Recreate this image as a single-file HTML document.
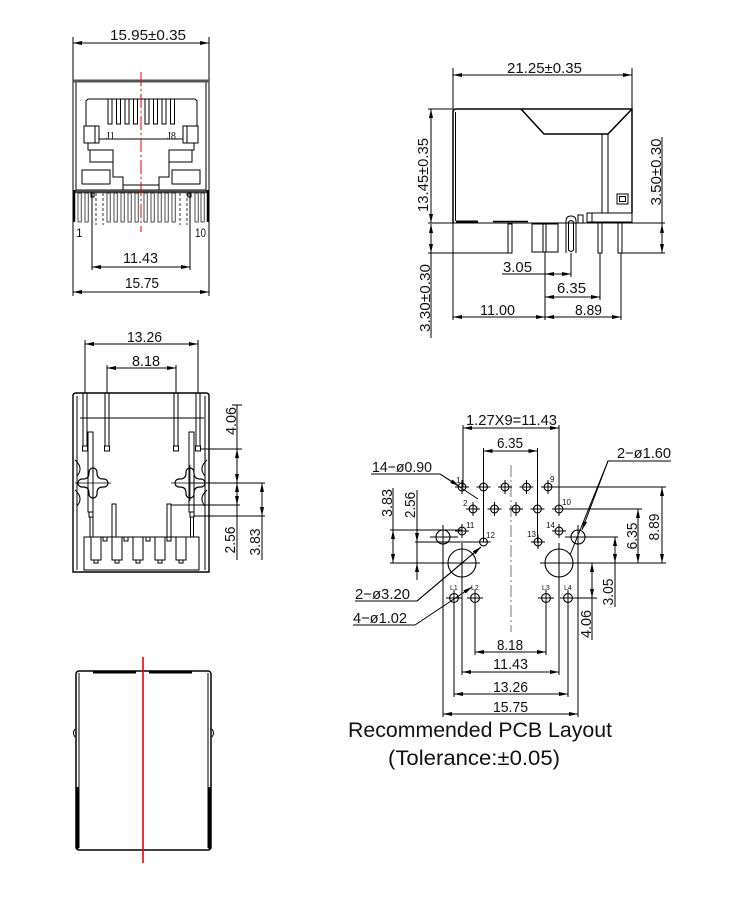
<!DOCTYPE html>
<html><head><meta charset="utf-8"><style>
html,body{margin:0;padding:0;background:#fff;}
svg{display:block;}
text{font-family:"Liberation Sans",sans-serif;fill:#111;stroke:none;}
</style></head><body>
<svg width="750" height="900" viewBox="0 0 750 900" xmlns="http://www.w3.org/2000/svg">
<defs>
<marker id="a" viewBox="0 0 9 4" refX="9" refY="2" markerWidth="9" markerHeight="4" markerUnits="userSpaceOnUse" orient="auto-start-reverse"><path d="M0,0L9,2L0,4z" fill="#000"/></marker>
</defs>
<rect width="750" height="900" fill="#fff"/>

<!-- ================= VIEW 1 : front ================= -->
<g stroke="#000" stroke-width="1" fill="none">
<line x1="73" y1="37" x2="73" y2="296"/>
<line x1="209" y1="37" x2="209" y2="296"/>
<line x1="73" y1="43" x2="209" y2="43" marker-start="url(#a)" marker-end="url(#a)"/>
<line x1="76" y1="81" x2="76" y2="192"/>
<line x1="206" y1="81" x2="206" y2="192"/>
<line x1="73" y1="81" x2="209" y2="81" stroke="#555" stroke-width="3"/>
<path d="M86,126V101L88,99H195L197,101V126"/>
<rect x="108" y="99" width="4" height="25"/>
<rect x="116.5" y="99" width="4" height="25"/>
<rect x="125" y="99" width="4" height="25"/>
<rect x="133.5" y="99" width="4" height="25"/>
<rect x="145" y="99" width="4" height="25"/>
<rect x="153.5" y="99" width="4" height="25"/>
<rect x="162" y="99" width="4" height="25"/>
<rect x="170.5" y="99" width="4" height="25"/>
<rect x="84" y="126" width="15" height="17"/>
<line x1="95" y1="126" x2="95" y2="143"/>
<rect x="183" y="126" width="15" height="17"/>
<line x1="187" y1="126" x2="187" y2="143"/>
<line x1="99" y1="139" x2="183" y2="139"/>
<path d="M88,143V150H113V177H123V190"/>
<rect x="90" y="150" width="23" height="12"/>
<rect x="82" y="170" width="28" height="14"/>
<path d="M194,143V150H169V177H159V190"/>
<rect x="169" y="150" width="23" height="12"/>
<rect x="172" y="170" width="28" height="14"/>
<line x1="123" y1="185" x2="159" y2="185"/>
<line x1="76" y1="190" x2="206" y2="190"/>
<line x1="73" y1="192" x2="209" y2="192" stroke="#444" stroke-width="2.5"/>
<line x1="74" y1="190" x2="74" y2="222" stroke-width="2.5"/>
<line x1="208" y1="190" x2="208" y2="222" stroke-width="2.5"/>
<g stroke-width="0.7">
<rect x="78" y="193" width="3.2" height="29"/>
<rect x="85" y="193" width="3.2" height="29"/>
<rect x="107" y="193" width="3.2" height="29"/>
<rect x="114" y="193" width="3.2" height="29"/>
<rect x="121" y="193" width="3.2" height="29"/>
<rect x="128" y="193" width="3.2" height="29"/>
<rect x="135" y="193" width="3.2" height="29"/>
<rect x="144" y="193" width="3.2" height="29"/>
<rect x="151" y="193" width="3.2" height="29"/>
<rect x="158" y="193" width="3.2" height="29"/>
<rect x="165" y="193" width="3.2" height="29"/>
<rect x="172" y="193" width="3.2" height="29"/>
<rect x="195" y="193" width="3.2" height="29"/>
<rect x="201" y="193" width="3.2" height="29"/>
</g>
<g stroke-dasharray="3,2" stroke-width="0.8">
<line x1="96" y1="193" x2="96" y2="225"/>
<line x1="103" y1="193" x2="103" y2="225"/>
<line x1="180" y1="193" x2="180" y2="225"/>
<line x1="187" y1="193" x2="187" y2="225"/>
</g>
<rect x="91" y="193" width="3" height="4"/>
<rect x="188" y="193" width="3" height="4"/>
<line x1="92" y1="193" x2="92" y2="270"/>
<line x1="190" y1="193" x2="190" y2="270"/>
<line x1="92" y1="267" x2="190" y2="267" marker-start="url(#a)" marker-end="url(#a)"/>
<line x1="73" y1="292" x2="209" y2="292" marker-start="url(#a)" marker-end="url(#a)"/>
<line x1="141" y1="72" x2="141" y2="232" stroke="#e00" stroke-width="1" stroke-dasharray="14,3,2,3"/>
</g>
<text x="110" y="40" font-size="15" textLength="76" lengthAdjust="spacingAndGlyphs">15.95±0.35</text>
<text x="123" y="263" font-size="15" textLength="35" lengthAdjust="spacingAndGlyphs">11.43</text>
<text x="125" y="288" font-size="15" textLength="34" lengthAdjust="spacingAndGlyphs">15.75</text>
<text x="76" y="237" font-size="12">1</text>
<text x="195" y="237" font-size="12" textLength="11" lengthAdjust="spacingAndGlyphs">10</text>
<text x="106" y="139" font-size="10" style="font-family:'Liberation Serif',serif">J1</text>
<text x="167" y="139" font-size="10" style="font-family:'Liberation Serif',serif">J8</text>

<!-- ================= VIEW 2 : side ================= -->
<g stroke="#000" stroke-width="1" fill="none">
<line x1="453" y1="68" x2="453" y2="109"/>
<line x1="632" y1="68" x2="632" y2="109"/>
<line x1="453" y1="75" x2="632" y2="75" marker-start="url(#a)" marker-end="url(#a)"/>
<path d="M453,223V112Q453,109 456,109H632V213" stroke-width="1.5"/>
<path d="M521,109L544,134H608L632,109" stroke-width="1.5"/>
<line x1="455.5" y1="112" x2="455.5" y2="221"/>
<line x1="602" y1="134" x2="602" y2="213"/>
<line x1="608" y1="134" x2="608" y2="213"/>
<rect x="617" y="194" width="11" height="10"/>
<rect x="619.5" y="196.5" width="6" height="5"/>
<rect x="587" y="213" width="45" height="9"/>
<line x1="592" y1="213" x2="592" y2="222"/>
<line x1="428" y1="223" x2="665" y2="223"/>
<line x1="456" y1="221.5" x2="478" y2="221.5" stroke-width="2"/>
<line x1="493" y1="221.5" x2="528" y2="221.5" stroke-width="1.5"/>
<line x1="428" y1="109" x2="453" y2="109"/>
<line x1="431" y1="109" x2="431" y2="223" marker-start="url(#a)" marker-end="url(#a)"/>
<line x1="431" y1="224" x2="431" y2="253" marker-start="url(#a)" marker-end="url(#a)"/>
<line x1="431" y1="253" x2="431" y2="338"/>
<line x1="428" y1="253" x2="510" y2="253"/>
<line x1="622" y1="253" x2="665" y2="253"/>
<line x1="662" y1="137" x2="662" y2="224"/>
<line x1="662" y1="224" x2="662" y2="253" marker-start="url(#a)" marker-end="url(#a)"/>
<rect x="508" y="224" width="4" height="29"/>
<rect x="532" y="224" width="26" height="28"/>
<line x1="543" y1="224" x2="543" y2="252"/>
<line x1="546" y1="224" x2="546" y2="252"/>
<path d="M566,253V221Q566,216 571,216Q576,216 576,221V253"/>
<path d="M568.5,250V222Q571,219 573.5,222V250Q571,253 568.5,250Z"/>
<rect x="578" y="215" width="5" height="8"/>
<rect x="598" y="223" width="4" height="30"/>
<rect x="618" y="223" width="4" height="30"/>
<line x1="453" y1="223" x2="453" y2="320"/>
<line x1="545" y1="252" x2="545" y2="320"/>
<line x1="571" y1="253" x2="571" y2="277"/>
<line x1="600" y1="253" x2="600" y2="300"/>
<line x1="621" y1="253" x2="621" y2="320"/>
<line x1="502" y1="274" x2="545" y2="274"/>
<line x1="545" y1="274" x2="571" y2="274" marker-start="url(#a)" marker-end="url(#a)"/>
<line x1="545" y1="297" x2="600" y2="297" marker-start="url(#a)" marker-end="url(#a)"/>
<line x1="453" y1="317" x2="545" y2="317" marker-start="url(#a)" marker-end="url(#a)"/>
<line x1="545" y1="317" x2="621" y2="317" marker-start="url(#a)" marker-end="url(#a)"/>
</g>
<text x="507" y="73" font-size="15" textLength="75" lengthAdjust="spacingAndGlyphs">21.25±0.35</text>
<text x="428" y="175" transform="rotate(-90 428 175)" text-anchor="middle" font-size="15" textLength="74" lengthAdjust="spacingAndGlyphs">13.45±0.35</text>
<text x="661" y="172" transform="rotate(-90 661 172)" text-anchor="middle" font-size="15" textLength="67" lengthAdjust="spacingAndGlyphs">3.50±0.30</text>
<text x="430" y="298" transform="rotate(-90 430 298)" text-anchor="middle" font-size="15" textLength="68" lengthAdjust="spacingAndGlyphs">3.30±0.30</text>
<text x="503" y="272" font-size="15" textLength="29" lengthAdjust="spacingAndGlyphs">3.05</text>
<text x="557" y="293" font-size="15" textLength="29" lengthAdjust="spacingAndGlyphs">6.35</text>
<text x="480" y="315" font-size="15" textLength="35" lengthAdjust="spacingAndGlyphs">11.00</text>
<text x="575" y="315" font-size="15" textLength="27" lengthAdjust="spacingAndGlyphs">8.89</text>

<!-- ================= VIEW 3 : bottom ================= -->
<g stroke="#000" stroke-width="1" fill="none">
<path d="M73,572V396Q73,393 76,393H206Q209,393 209,396V572Z" stroke-width="1.4"/>
<line x1="77" y1="396" x2="77" y2="570"/>
<line x1="205" y1="396" x2="205" y2="570"/>
<line x1="80" y1="418" x2="204" y2="418"/>
<line x1="85" y1="340" x2="85" y2="393"/>
<line x1="198" y1="340" x2="198" y2="393"/>
<line x1="107" y1="365" x2="107" y2="393"/>
<line x1="176" y1="365" x2="176" y2="393"/>
<line x1="85" y1="344" x2="198" y2="344" marker-start="url(#a)" marker-end="url(#a)"/>
<line x1="107" y1="368" x2="176" y2="368" marker-start="url(#a)" marker-end="url(#a)"/>
<rect x="83" y="393" width="4" height="53"/><rect x="82.5" y="446" width="5" height="5"/>
<rect x="105" y="393" width="4" height="53"/><rect x="104.5" y="446" width="5" height="5"/>
<rect x="174" y="393" width="4" height="53"/><rect x="173.5" y="446" width="5" height="5"/>
<rect x="196" y="393" width="4" height="53"/><rect x="195.5" y="446" width="5" height="5"/>
<rect x="88" y="432" width="5" height="80"/><rect x="89" y="512" width="4" height="5"/><rect x="90" y="517" width="3" height="20"/>
<rect x="189" y="432" width="5" height="80"/><rect x="190" y="512" width="4" height="5"/><rect x="190.5" y="517" width="3" height="20"/>
<rect x="112" y="504" width="4" height="33"/>
<rect x="167" y="504" width="4" height="33"/>
<path d="M75,460Q84,468 77,476M75,490Q84,498 77,506"/>
<path d="M207,460Q198,468 205,476M207,490Q198,498 205,506"/>
<path d="M89,472A4,4 0 0 1 97,472V473Q97,479 103,479H104A4,4 0 0 1 104,487H103Q97,487 97,493V494A4,4 0 0 1 89,494V493Q89,487 83,487H82A4,4 0 0 1 82,479H83Q89,479 89,473Z" stroke-width="1.2"/>
<path d="M186,472A4,4 0 0 1 194,472V473Q194,479 200,479H201A4,4 0 0 1 201,487H200Q194,487 194,493V494A4,4 0 0 1 186,494V493Q186,487 180,487H179A4,4 0 0 1 179,479H180Q186,479 186,473Z" stroke-width="1.2"/>
<line x1="75" y1="483" x2="111" y2="483" stroke-width="0.8"/>
<line x1="93" y1="465" x2="93" y2="501" stroke-width="0.8"/>
<line x1="171" y1="483" x2="209" y2="483" stroke-width="0.8"/>
<line x1="190" y1="465" x2="190" y2="501" stroke-width="0.8"/>
<rect x="84" y="537" width="115" height="33"/>
<rect x="91" y="537" width="10" height="23"/><rect x="94" y="560" width="4" height="3"/>
<rect x="112" y="537" width="10" height="23"/><rect x="115" y="560" width="4" height="3"/>
<rect x="133" y="537" width="10" height="23"/><rect x="136" y="560" width="4" height="3"/>
<rect x="155" y="537" width="10" height="23"/><rect x="158" y="560" width="4" height="3"/>
<rect x="176" y="537" width="10" height="23"/><rect x="179" y="560" width="4" height="3"/>
<rect x="103" y="537" width="4" height="4"/>
<rect x="124" y="537" width="4" height="4"/>
<rect x="146" y="537" width="4" height="4"/>
<rect x="167" y="537" width="4" height="4"/>
<line x1="232" y1="405" x2="242" y2="405"/>
<line x1="201" y1="449" x2="242" y2="449"/>
<line x1="237" y1="405" x2="237" y2="449"/>
<line x1="237" y1="449" x2="237" y2="483" marker-start="url(#a)" marker-end="url(#a)"/>
<line x1="190" y1="483" x2="265" y2="483"/>
<line x1="171" y1="505" x2="240" y2="505"/>
<line x1="237" y1="483" x2="237" y2="505" marker-start="url(#a)" marker-end="url(#a)"/>
<line x1="237" y1="505" x2="237" y2="560"/>
<line x1="194" y1="516" x2="265" y2="516"/>
<line x1="262" y1="483" x2="262" y2="516" marker-start="url(#a)" marker-end="url(#a)"/>
<line x1="262" y1="516" x2="262" y2="560"/>
</g>
<text x="127" y="342" font-size="15" textLength="35" lengthAdjust="spacingAndGlyphs">13.26</text>
<text x="132" y="366" font-size="15" textLength="28" lengthAdjust="spacingAndGlyphs">8.18</text>
<text x="236" y="421" transform="rotate(-90 236 421)" text-anchor="middle" font-size="15" textLength="28" lengthAdjust="spacingAndGlyphs">4.06</text>
<text x="235" y="540" transform="rotate(-90 235 540)" text-anchor="middle" font-size="15" textLength="27" lengthAdjust="spacingAndGlyphs">2.56</text>
<text x="260" y="542" transform="rotate(-90 260 542)" text-anchor="middle" font-size="15" textLength="27" lengthAdjust="spacingAndGlyphs">3.83</text>

<!-- ================= VIEW 4 : top ================= -->
<g stroke="#000" stroke-width="1" fill="none">
<rect x="76" y="671" width="135" height="179" rx="3" stroke-width="1.5"/>
<line x1="79" y1="673" x2="79" y2="848"/>
<line x1="208" y1="673" x2="208" y2="848"/>
<line x1="93" y1="672" x2="136" y2="672" stroke-width="3"/>
<line x1="149" y1="672" x2="192" y2="672" stroke-width="3"/>
<line x1="77" y1="787" x2="77" y2="849" stroke-width="3"/>
<line x1="210" y1="787" x2="210" y2="849" stroke-width="3"/>
<path d="M75,729Q72,733 75,737"/>
<path d="M212,729Q215,733 212,737"/>
</g>
<line x1="143" y1="657" x2="143" y2="863" stroke="#e00" stroke-width="1.6"/>

<!-- ================= VIEW 5 : PCB layout ================= -->
<g stroke="#000" stroke-width="1" fill="none">
<line x1="511" y1="465" x2="511" y2="632" stroke="#555" stroke-width="0.8" stroke-dasharray="12,3,2,3"/>
<g stroke-width="1.1">
<circle cx="462" cy="487" r="3.9"/><circle cx="483.5" cy="487" r="3.9"/><circle cx="505" cy="487" r="3.9"/><circle cx="526.5" cy="487" r="3.9"/><circle cx="548" cy="487" r="3.9"/>
<circle cx="473" cy="509" r="3.9"/><circle cx="494.5" cy="509" r="3.9"/><circle cx="516" cy="509" r="3.9"/><circle cx="537.5" cy="509" r="3.9"/><circle cx="559" cy="509" r="3.9"/>
<circle cx="462" cy="531" r="3.9"/><circle cx="483.5" cy="542" r="3.9"/><circle cx="538" cy="542" r="3.9"/><circle cx="559" cy="531" r="3.9"/>
<circle cx="454" cy="598" r="4.4"/><circle cx="475" cy="598" r="4.4"/><circle cx="546" cy="598" r="4.4"/><circle cx="568" cy="598" r="4.4"/>
<circle cx="443" cy="537" r="7"/><circle cx="578" cy="537" r="7"/>
<circle cx="462" cy="563" r="14"/><circle cx="559" cy="563" r="14"/>
</g>
<path d="M455,487h14M462,480v14M476.5,487h14M483.5,480v14M498,487h14M505,480v14M519.5,487h14M526.5,480v14M541,487h14M548,480v14"/>
<path d="M466,509h14M473,502v14M487.5,509h14M494.5,502v14M509,509h14M516,502v14M530.5,509h14M537.5,502v14M552,509h14M559,502v14"/>
<path d="M455,531h14M462,524v14M476.5,542h14M531,542h14M538,535v14M552,531h14M559,524v14"/>
<path d="M446,598h16M467,598h16M538,598h16M560,598h16M454,590v8M475,590v8M546,590v8M568,590v8"/>
<line x1="430" y1="537" x2="458" y2="537"/>
<line x1="443" y1="525" x2="443" y2="717"/>
<line x1="565" y1="537" x2="618" y2="537"/>
<line x1="578" y1="525" x2="578" y2="717"/>
<line x1="390" y1="563" x2="480" y2="563"/>
<line x1="540" y1="563" x2="666" y2="563"/>
<line x1="462" y1="543" x2="462" y2="675"/>
<line x1="559" y1="543" x2="559" y2="675"/>
<line x1="454" y1="598" x2="454" y2="697"/>
<line x1="475" y1="598" x2="475" y2="655"/>
<line x1="546" y1="598" x2="546" y2="655"/>
<line x1="568" y1="598" x2="568" y2="697"/>
<line x1="463" y1="425" x2="463" y2="487"/>
<line x1="559" y1="425" x2="559" y2="509"/>
<line x1="463" y1="428" x2="559" y2="428" marker-start="url(#a)" marker-end="url(#a)"/>
<line x1="483.5" y1="448" x2="483.5" y2="542"/>
<line x1="537.5" y1="448" x2="537.5" y2="542"/>
<line x1="483.5" y1="451" x2="537.5" y2="451" marker-start="url(#a)" marker-end="url(#a)"/>
<line x1="475" y1="652" x2="546" y2="652" marker-start="url(#a)" marker-end="url(#a)"/>
<line x1="462" y1="672" x2="559" y2="672" marker-start="url(#a)" marker-end="url(#a)"/>
<line x1="454" y1="694" x2="568" y2="694" marker-start="url(#a)" marker-end="url(#a)"/>
<line x1="443" y1="714" x2="578" y2="714" marker-start="url(#a)" marker-end="url(#a)"/>
<line x1="552" y1="487" x2="666" y2="487"/>
<line x1="662" y1="487" x2="662" y2="563" marker-start="url(#a)" marker-end="url(#a)"/>
<line x1="563" y1="509" x2="642" y2="509"/>
<line x1="638" y1="509" x2="638" y2="563" marker-start="url(#a)" marker-end="url(#a)"/>
<line x1="615" y1="537" x2="615" y2="563" marker-start="url(#a)" marker-end="url(#a)"/>
<line x1="615" y1="563" x2="615" y2="607"/>
<line x1="572" y1="598" x2="597" y2="598"/>
<line x1="592" y1="563" x2="592" y2="598" marker-start="url(#a)" marker-end="url(#a)"/>
<line x1="592" y1="598" x2="592" y2="640"/>
<line x1="390" y1="530" x2="462" y2="530"/>
<line x1="393" y1="488" x2="393" y2="530"/>
<line x1="393" y1="530" x2="393" y2="563" marker-start="url(#a)" marker-end="url(#a)"/>
<line x1="415" y1="542" x2="483" y2="542"/>
<line x1="417" y1="490" x2="417" y2="580"/>
<line x1="417" y1="530" x2="417" y2="542" marker-end="url(#a)"/>
<line x1="417" y1="575" x2="417" y2="563" marker-end="url(#a)"/>
<path d="M371,474H440L478,499"/>
<line x1="440" y1="474" x2="459" y2="486" marker-end="url(#a)"/>
<path d="M671,461H608L570,555"/>
<line x1="608" y1="461" x2="582" y2="530" marker-end="url(#a)"/>
<path d="M355,601H417L481,547"/>
<line x1="417" y1="601" x2="481" y2="547" marker-end="url(#a)"/>
<path d="M353,625H415"/>
<line x1="415" y1="625" x2="472" y2="587" marker-end="url(#a)"/>
</g>
<g font-size="8">
<text x="456" y="483">1</text>
<text x="550" y="482">9</text>
<text x="463" y="506">2</text>
<text x="562" y="505">10</text>
<text x="466" y="528">11</text>
<text x="486" y="538">12</text>
<text x="527" y="537">13</text>
<text x="546" y="528">14</text>
<text x="450" y="590" font-size="7">L1</text>
<text x="471" y="590" font-size="7">L2</text>
<text x="542" y="590" font-size="7">L3</text>
<text x="564" y="590" font-size="7">L4</text>
</g>
<text x="466" y="425" font-size="15" textLength="91" lengthAdjust="spacingAndGlyphs">1.27X9=11.43</text>
<text x="497" y="448" font-size="15" textLength="26" lengthAdjust="spacingAndGlyphs">6.35</text>
<text x="372" y="472" font-size="15" textLength="60" lengthAdjust="spacingAndGlyphs">14−ø0.90</text>
<text x="617" y="458" font-size="15" textLength="54" lengthAdjust="spacingAndGlyphs">2−ø1.60</text>
<text x="392" y="503" transform="rotate(-90 392 503)" text-anchor="middle" font-size="15" textLength="28" lengthAdjust="spacingAndGlyphs">3.83</text>
<text x="415" y="505" transform="rotate(-90 415 505)" text-anchor="middle" font-size="15" textLength="26" lengthAdjust="spacingAndGlyphs">2.56</text>
<text x="355" y="599" font-size="15" textLength="55" lengthAdjust="spacingAndGlyphs">2−ø3.20</text>
<text x="353" y="623" font-size="15" textLength="54" lengthAdjust="spacingAndGlyphs">4−ø1.02</text>
<text x="659" y="527" transform="rotate(-90 659 527)" text-anchor="middle" font-size="15" textLength="27" lengthAdjust="spacingAndGlyphs">8.89</text>
<text x="637" y="536" transform="rotate(-90 637 536)" text-anchor="middle" font-size="15" textLength="27" lengthAdjust="spacingAndGlyphs">6.35</text>
<text x="613" y="592" transform="rotate(-90 613 592)" text-anchor="middle" font-size="15" textLength="27" lengthAdjust="spacingAndGlyphs">3.05</text>
<text x="591" y="624" transform="rotate(-90 591 624)" text-anchor="middle" font-size="15" textLength="28" lengthAdjust="spacingAndGlyphs">4.06</text>
<text x="497" y="650" font-size="15" textLength="26" lengthAdjust="spacingAndGlyphs">8.18</text>
<text x="493" y="669" font-size="15" textLength="35" lengthAdjust="spacingAndGlyphs">11.43</text>
<text x="493" y="692" font-size="15" textLength="35" lengthAdjust="spacingAndGlyphs">13.26</text>
<text x="493" y="712" font-size="15" textLength="35" lengthAdjust="spacingAndGlyphs">15.75</text>
<text x="348" y="737" font-size="21" textLength="264" lengthAdjust="spacingAndGlyphs">Recommended PCB Layout</text>
<text x="388" y="765" font-size="21" textLength="172" lengthAdjust="spacingAndGlyphs">(Tolerance:±0.05)</text>
</svg>
</body></html>
